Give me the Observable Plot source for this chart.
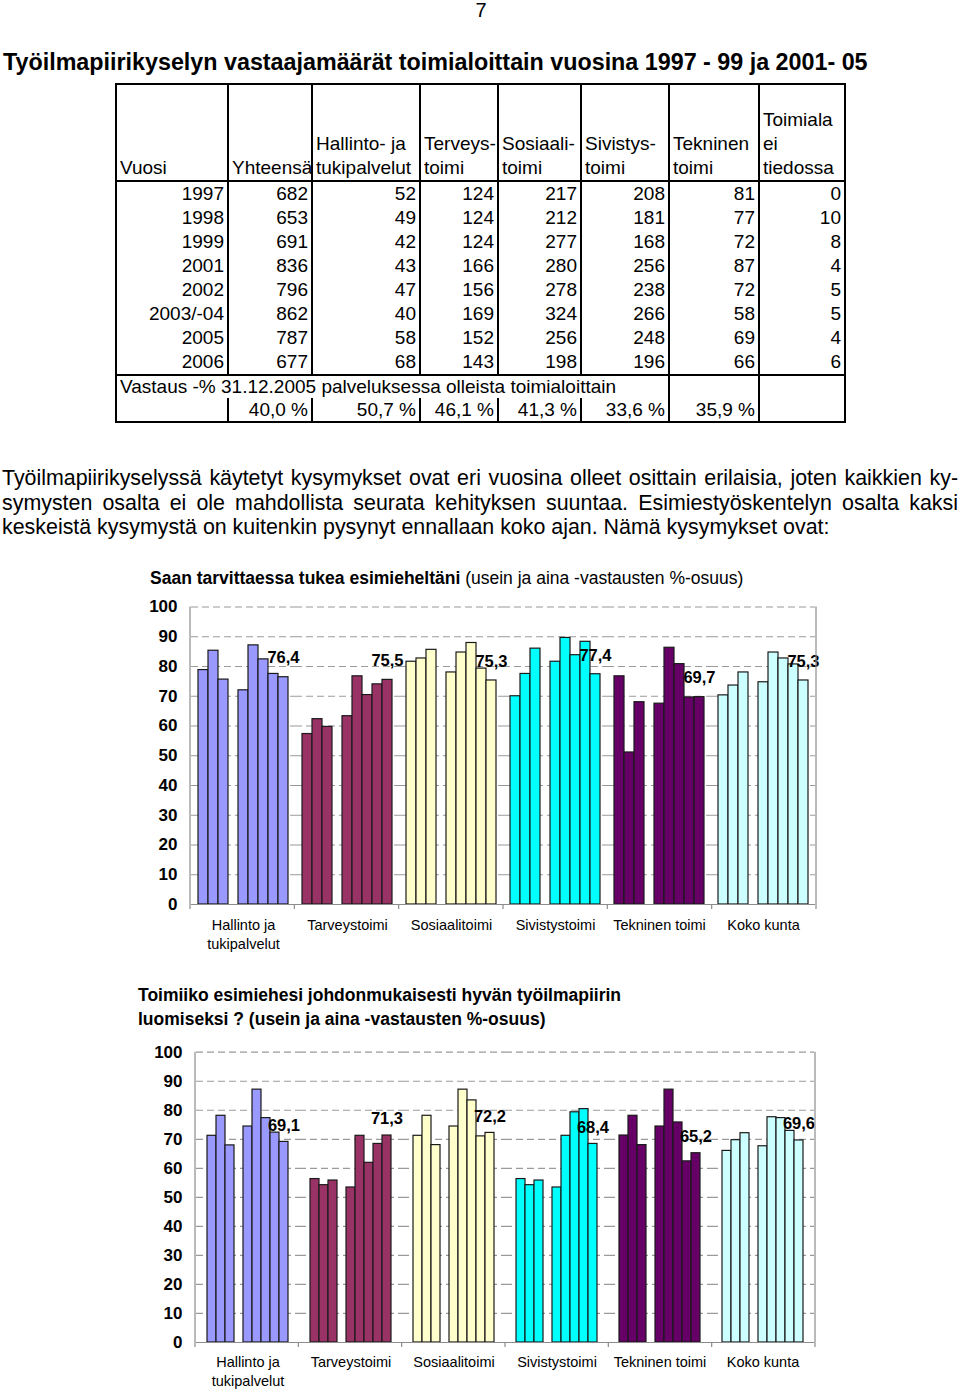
<!DOCTYPE html>
<html><head><meta charset="utf-8">
<script src="https://cdn.jsdelivr.net/npm/d3@7"></script>
<script src="https://cdn.jsdelivr.net/npm/@observablehq/plot@0.6"></script>
<style>
body{margin:0;background:#fff;}
#page{position:relative;width:960px;height:1393px;font-family:"Liberation Sans",Arial,Helvetica,sans-serif;color:#000;overflow:hidden;background:#fff}
.abs{position:absolute}
#pnum{left:0;width:962px;text-align:center;top:-2px;font-size:20px;line-height:24px}
#title{left:3px;top:48px;font-size:23.3px;font-weight:bold;line-height:28px;white-space:nowrap}
#tbl{left:115px;top:83px;border-collapse:collapse;table-layout:fixed;font-size:19px;width:731px;border:2px solid #000}
#tbl td{padding:0 3px;border-left:2px solid #000;border-right:2px solid #000;border-top:none;border-bottom:none;height:24px;line-height:24px;white-space:nowrap;overflow:visible}
#tbl tr.head td{height:95px;vertical-align:bottom;text-align:left;white-space:pre-line;border-bottom:2px solid #000}
#tbl tr.data td{text-align:right}
#tbl tr.last td{border-bottom:2px solid #000}
#tbl tr.resp td{text-align:left;height:22px;line-height:22px}
#tbl tr.rate td{text-align:right;height:23px;line-height:23px}
#para{left:2px;top:466px;width:956px;font-size:21.4px;line-height:24.5px}
#para div{text-align:justify;text-align-last:justify}
#para div.end{text-align-last:left}
.ctitle{font-size:17.5px;line-height:24px;white-space:nowrap}
.ctitle b{font-weight:bold}
</style></head>
<body><div id="page">
<div id="pnum" class="abs">7</div>
<div id="title" class="abs"></div>
<table id="tbl" class="abs"></table>
<div id="para" class="abs"></div>
<div id="t1" class="abs ctitle" style="left:150px;top:566px"></div>
<div id="c1" class="abs" style="left:0;top:590px"></div>
<div id="t2" class="abs ctitle" style="left:138px;top:983px"></div>
<div id="c2" class="abs" style="left:0;top:1035px"></div>
</div>
<script>
// ---------- texts ----------
const pageNumber = "7";
const pageTitle = "Työilmapiirikyselyn vastaajamäärät toimialoittain vuosina 1997 - 99 ja 2001- 05";
const paragraphLines = [
  "Työilmapiirikyselyssä käytetyt kysymykset ovat eri vuosina olleet osittain erilaisia, joten kaikkien ky-",
  "symysten osalta ei ole mahdollista seurata kehityksen suuntaa. Esimiestyöskentelyn osalta kaksi",
  "keskeistä kysymystä on kuitenkin pysynyt ennallaan koko ajan. Nämä kysymykset ovat:"
];
const chart1TitleBold = "Saan tarvittaessa tukea esimieheltäni";
const chart1TitleRest = " (usein ja aina -vastausten %-osuus)";
const chart2TitleLines = ["Toimiiko esimiehesi johdonmukaisesti hyvän työilmapiirin", "luomiseksi ? (usein ja aina -vastausten %-osuus)"];

// ---------- table data ----------
const tableHeaders = ["Vuosi","Yhteensä","Hallinto- ja\ntukipalvelut","Terveys-\ntoimi","Sosiaali-\ntoimi","Sivistys-\ntoimi","Tekninen\ntoimi","Toimiala\nei\ntiedossa"];
const tableYears = ["1997","1998","1999","2001","2002","2003/-04","2005","2006"];
const totalCount = [682,653,691,836,796,862,787,677];
const hallintoCount = [52,49,42,43,47,40,58,68];
const terveysCount = [124,124,124,166,156,169,152,143];
const sosiaaliCount = [217,212,277,280,278,324,256,198];
const sivistysCount = [208,181,168,256,238,266,248,196];
const tekninenCount = [81,77,72,87,72,58,69,66];
const unknownCount = [0,10,8,4,5,5,4,6];
const responseRateLabel = "Vastaus -% 31.12.2005 palveluksessa olleista toimialoittain";
const responseRates = ["40,0 %","50,7 %","46,1 %","41,3 %","33,6 %","35,9 %"];

// ---------- chart data ----------
const groups = ["Hallinto ja\ntukipalvelut","Tarveystoimi","Sosiaalitoimi","Sivistystoimi","Tekninen toimi","Koko kunta"];
const groupColors = ["#9999FF","#993366","#FFFFCC","#00FFFF","#660066","#CCFFFF"];
const yearSlots = ["1997","1998","1999","2000","2001","2002","2003/04","2005","2006"];
const surveyYears = ["1997","1998","1999","2001","2002","2003/04","2005","2006"];
const yTicks = [0,10,20,30,40,50,60,70,80,90,100];

// Chart 1: Saan tarvittaessa tukea esimieheltäni
const tuki_hallinto = [78.8, 85.3, 75.6, 72.0, 87.1, 82.4, 77.5, 76.4];
const tuki_terveys  = [57.3, 62.3, 59.7, 63.3, 76.7, 70.4, 74.0, 75.5];
const tuki_sosiaali = [81.6, 82.7, 85.6, 78.0, 84.7, 87.9, 79.3, 75.3];
const tuki_sivistys = [70.0, 77.5, 86.0, 81.6, 89.6, 83.8, 88.3, 77.4];
const tuki_tekninen = [76.7, 51.1, 68.0, 67.5, 86.3, 80.8, 69.6, 69.7];
const tuki_koko     = [70.3, 73.6, 78.0, 74.7, 84.7, 82.7, 80.7, 75.3];

// Chart 2: Toimiiko esimiehesi johdonmukaisesti ...
const johd_hallinto = [71.2, 78.1, 67.9, 74.4, 87.1, 77.3, 72.3, 69.1];
const johd_terveys  = [56.3, 54.2, 55.8, 53.4, 71.2, 61.9, 68.4, 71.3];
const johd_sosiaali = [71.2, 78.1, 68.0, 74.4, 87.1, 83.4, 71.0, 72.2];
const johd_sivistys = [56.3, 54.2, 55.8, 53.4, 71.2, 79.3, 80.4, 68.4];
const johd_tekninen = [71.3, 78.1, 68.0, 74.4, 87.1, 75.8, 62.4, 65.2];
const johd_koko     = [66.0, 69.7, 72.1, 67.6, 77.6, 77.3, 72.9, 69.6];

// ---------- build texts ----------
document.getElementById("pnum").textContent = pageNumber;
document.getElementById("title").textContent = pageTitle;
const para = document.getElementById("para");
paragraphLines.forEach((l, i) => {
  const d = document.createElement("div");
  d.textContent = l;
  if (i === paragraphLines.length - 1) d.className = "end";
  para.appendChild(d);
});
const t1 = document.getElementById("t1");
const b1 = document.createElement("b"); b1.textContent = chart1TitleBold;
t1.appendChild(b1); t1.appendChild(document.createTextNode(chart1TitleRest));
const t2 = document.getElementById("t2");
chart2TitleLines.forEach(l => { const d = document.createElement("div"); d.style.fontWeight = "bold"; d.textContent = l; t2.appendChild(d); });

// ---------- table ----------
const tbl = document.getElementById("tbl");
const colWidths = [112, 84, 108, 78, 83, 88, 90, 86];
const cg = document.createElement("colgroup");
colWidths.forEach(w => { const c = document.createElement("col"); c.style.width = w + "px"; cg.appendChild(c); });
tbl.appendChild(cg);
function addRow(cls, cells) {
  const tr = document.createElement("tr"); tr.className = cls;
  cells.forEach(c => {
    const td = document.createElement("td");
    if (typeof c === "object" && c !== null) { td.textContent = c.text; if (c.span) td.colSpan = c.span; }
    else td.textContent = c;
    tr.appendChild(td);
  });
  tbl.appendChild(tr);
  return tr;
}
addRow("head", tableHeaders);
tableYears.forEach((y, i) => {
  addRow("data" + (i === tableYears.length - 1 ? " last" : ""),
    [y, totalCount[i], hallintoCount[i], terveysCount[i], sosiaaliCount[i], sivistysCount[i], tekninenCount[i], unknownCount[i]]);
});
addRow("resp", [{text: responseRateLabel, span: 6}, "", ""]);
addRow("rate", ["", ...responseRates, ""]);

// ---------- charts ----------
const FONT = '"Liberation Sans", Arial, Helvetica, sans-serif';
const fmt = v => d3.format(".1f")(v).replace(".", ",");
function toData(series) {
  return groups.flatMap((g, i) => surveyYears.map((y, j) => ({g, year: y, value: series[i][j]})));
}
function makeChart(data, o) {
  const chart = Plot.plot({
    width: 960, height: o.height,
    marginTop: o.marginTop, marginBottom: o.marginBottom, marginLeft: o.marginLeft, marginRight: o.marginRight,
    style: {fontFamily: FONT, fontSize: "17px", fontWeight: "bold", background: "transparent", overflow: "visible", color: "#000"},
    fx: {domain: groups, padding: 0, axis: null},
    x: {domain: yearSlots, paddingInner: 0, paddingOuter: 0.7, axis: null},
    y: {domain: [0, 100], ticks: yTicks, tickSize: 0, tickPadding: 14, label: null},
    color: {domain: groups, range: groupColors},
    marks: [
      Plot.ruleY(yTicks.filter(t => t > 0), {stroke: "#9a9a9a", strokeDasharray: "7,4", strokeWidth: 1.2}),
      Plot.barY(data, {fx: "g", x: "year", y: "value", fill: "g", stroke: "#1a1a1a", strokeWidth: 1.2}),
      Plot.ruleY([0], {stroke: "#8c8c8c", strokeWidth: 1.2}),
      Plot.text(data.filter(d => d.year === surveyYears[surveyYears.length - 1]),
        {fx: "g", x: "year", y: "value", text: d => fmt(d.value), dy: o.labelDy, fontSize: 16.5, fontWeight: "bold", fill: "#000"}),
      Plot.text(groups.map(g => ({g})),
        {fx: "g", text: "g", frameAnchor: "bottom", dy: o.groupDy, lineAnchor: "top", lineHeight: 1.31, fontSize: 14.5, fontWeight: "normal", fill: "#000"})
    ]
  });
  // frame lines and group boundary ticks derived from the plot's own scales
  const fxS = chart.scale("fx"), yS = chart.scale("y");
  const band = d3.scaleBand(fxS.domain, fxS.range).padding(0);
  const ys = d3.scaleLinear(yS.domain, yS.range);
  const g = d3.select(chart).append("g").attr("stroke", "#8c8c8c").attr("stroke-width", 1.2);
  const [x0, x1] = fxS.range;
  [x0, x1].forEach(x => g.append("line").attr("x1", x).attr("x2", x).attr("y1", ys(0)).attr("y2", ys(100)));
  [...fxS.domain.map(d => band(d)), x1].forEach(x =>
    g.append("line").attr("x1", x).attr("x2", x).attr("y1", ys(0)).attr("y2", ys(0) + 5));
  return chart;
}
document.getElementById("c1").appendChild(makeChart(toData([tuki_hallinto, tuki_terveys, tuki_sosiaali, tuki_sivistys, tuki_tekninen, tuki_koko]),
  {height: 370, marginTop: 16.5, marginBottom: 56, marginLeft: 190, marginRight: 144, labelDy: -19, groupDy: 12}));
document.getElementById("c2").appendChild(makeChart(toData([johd_hallinto, johd_terveys, johd_sosiaali, johd_sivistys, johd_tekninen, johd_koko]),
  {height: 358, marginTop: 16.7, marginBottom: 51, marginLeft: 195, marginRight: 145, labelDy: -16.5, groupDy: 11}));
</script>
</body></html>
